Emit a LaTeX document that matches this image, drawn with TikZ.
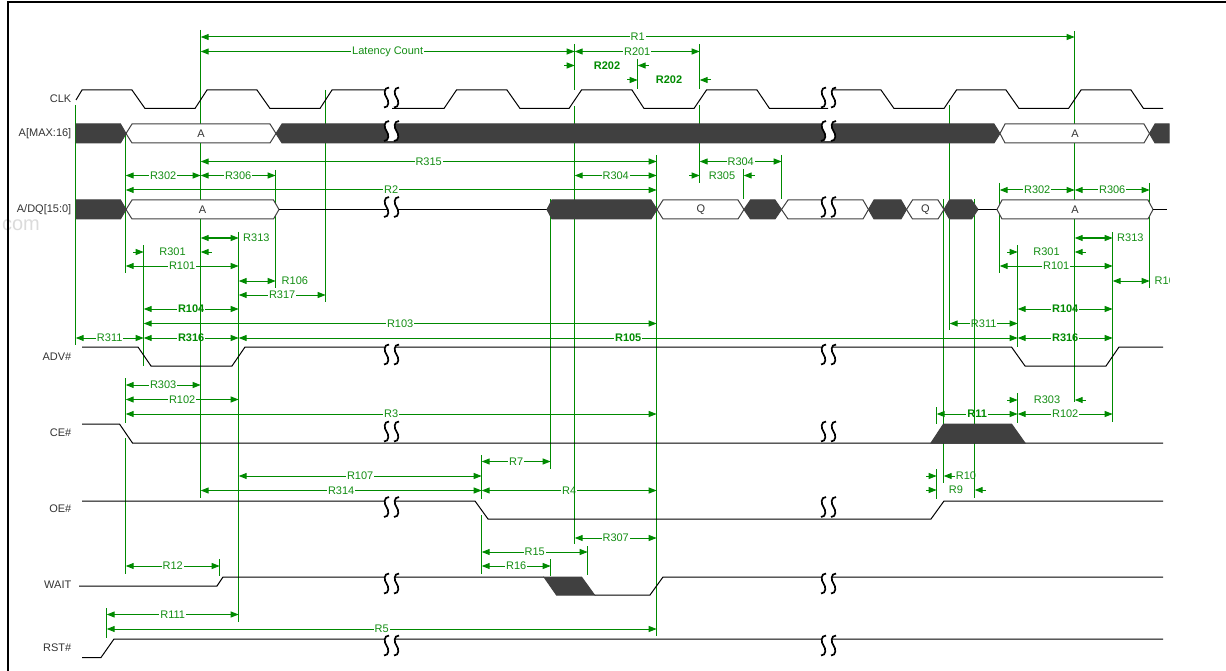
\documentclass[tikz,border=0pt]{standalone}
\usepackage{fontspec}
\setmainfont{Liberation Sans}
\usetikzlibrary{arrows.meta}
\definecolor{dimgreen}{HTML}{008A00}
\definecolor{textgreen}{HTML}{148E14}
\definecolor{busdark}{HTML}{404040}

\begin{document}
\begin{tikzpicture}[x=1pt,y=-1pt,line join=miter,
 font=\fontsize{11}{13}\selectfont,
 sigline/.style={black,line width=1pt},
 busblank/.style={draw=busdark,fill=white,line width=1pt},
 busfill/.style={draw=busdark,fill=busdark,line width=1pt},
 dimline/.style={dimgreen,line width=1pt,{Triangle[length=8pt,width=6pt]}-{Triangle[length=8pt,width=6pt]}},
 halfline/.style={dimgreen,line width=1pt,{Triangle[length=8pt,width=6pt]}-},
 tickline/.style={draw=dimgreen,line width=1pt},
 dimtext/.style={text=textgreen,inner sep=1pt},
 dimlabel/.style={dimtext,fill=white},
 heavylabel/.style={dimlabel,text=dimgreen,font=\fontsize{11}{13}\selectfont\bfseries},
 siglabel/.style={text=black!80,anchor=east,inner sep=0pt},
 buslabel/.style={text=black!80,inner sep=0pt}]
 \useasboundingbox (0,0) rectangle (1226,671);

  \node[text=black!14,font=\fontsize{20}{24}\selectfont] (site) at (21,225) {com};
  \draw[black,line width=2pt] (1226,2) -- (7.5,2) -- (7.5,671);

  % time marks
  \foreach \x in {76,107,126,144,201,220,239,276,326,482,551,575,588,638,657,700,744,782,937,944,950,975,1000,1018,1075,1113,1150} {
   \coordinate (m\x) at (\x-0.3,0);}

  % dimensions with the label in the middle
  \foreach \a/\b/\y/\t in {201/1075/37/R1, 201/575/51.5/Latency Count, 575/700/51.5/R201, 201/657/161.5/R315, 700/782/161.5/R304, 126/201/175.5/R302, 201/276/175.5/R306, 575/657/175.5/R304, 126/657/190/R2, 1000/1075/190/R302, 1075/1150/190/R306, 126/239/266/R101, 1000/1113/266/R101, 239/326/295/R317, 144/657/323.5/R103, 950/1018/323.5/R311, 76/144/338/R311, 126/201/385/R303, 126/239/399.5/R102, 126/657/414/R3, 1018/1113/414/R102, 482/551/461.5/R7, 239/482/476/R107, 201/482/490.5/R314, 482/657/490.5/R4, 575/657/538/R307, 482/588/552/R15, 482/551/566/R16, 126/220/566/R12, 107/239/614.5/R111, 107/657/629/R5} {
   \draw[dimline] (m\a |- 0,\y) -- node[dimlabel] (\t-\a) {\t} (m\b |- 0,\y);}
  \foreach \a/\b/\y/\t in {144/239/309/R104, 1018/1113/309/R104, 144/239/338/R316, 239/1018/338/R105, 1018/1113/338/R316, 937/1018/414/R11} {
   \draw[dimline] (m\a |- 0,\y) -- node[heavylabel] (\t-\a) {\t} (m\b |- 0,\y);}

  % dimensions with the label beside them
  \foreach \a/\b/\y in {201/239/238, 1075/1113/238, 239/276/281, 1113/1150/281} {
   \draw[dimline] (m\a |- 0,\y) -- (m\b |- 0,\y);}
  \node[dimtext,anchor=west] (R313-201) at (242,238) {R313};
  \node[dimtext,anchor=west] (R313-1075) at (1116,238) {R313};
  \node[dimtext,anchor=west] (R106-239) at (280.5,281) {R106};
  \begin{scope}
   \clip (1100,270) rectangle (1169,292);
   \node[dimtext,anchor=west] (R106-1113) at (1153.5,281) {R106};
  \end{scope}

  % arrows from outside
  \foreach \a/\b/\y/\l/\t in {144/201/252/172.5/R301, 1018/1075/252/1046.5/R301, 700/744/175.5/722/R305, 1018/1075/400/1047/R303, 937/944/476/966/R10, 937/975/490/956/R9} {
   \draw[halfline] (m\a |- 0,\y) -- ++(-11,0);
   \draw[halfline] (m\b |- 0,\y) -- ++(11,0);
   \node[dimtext] (\t-\a) at (\l,\y) {\t};}
  \foreach \a/\b/\y/\l/\t in {575/638/65.5/607/R202, 638/700/80/669/R202} {
   \draw[halfline] (m\a |- 0,\y) -- ++(-11,0);
   \draw[halfline] (m\b |- 0,\y) -- ++(11,0);
   \node[heavylabel,fill=none] (\t-\a) at (\l,\y) {\t};}

  % reference lines
  \foreach \x/\s/\e in {76/105/345, 107/608/638, 126/133/273, 126/378/423, 126/438/574, 144/245/366, 201/30/498, 220/559/576, 239/232/622, 276/170/288, 326/90/302, 482/455/499, 482/515/574, 551/199/469, 551/559/576, 575/44/90, 575/106/544, 588/546/575, 638/59/89, 657/155/636, 700/44/89, 700/105/183, 744/169/199, 782/155/199, 937/407/424, 937/469/499, 944/199/483, 950/105/330, 975/199/498, 1000/183/273, 1018/245/347, 1018/393/423, 1075/31/402, 1113/232/422, 1150/183/288} {
   \draw[tickline] (m\x |- 0,\s) -- (m\x |- 0,\e);}

  % CLK
  \draw[sigline] (76,100) -- (82,90) -- (132,90) -- (145,108.5) -- (195,108.5) -- (207,90) -- (257,90) -- (270,108.5) -- (320,108.5) -- (332,90) -- (392,90);
  \draw[sigline] (392,108.5) -- (444,108.5) -- (456.5,90) -- (507,90) -- (520,108.5) -- (569,108.5) -- (581.5,90) -- (632,90) -- (644,108.5) -- (694,108.5) -- (706.5,90) -- (757,90) -- (769.5,108.5) -- (828,108.5);
  \draw[sigline] (828,90) -- (881,90) -- (894,108.5) -- (944,108.5) -- (956.5,90) -- (1006,90) -- (1019,108.5) -- (1068.5,108.5) -- (1081,90) -- (1131,90) -- (1143.5,108.5) -- (1163,108.5);

  % A[MAX:16]
  \draw[busfill] (76,124) -- (120.5,124) -- (126,133.5) -- (120.5,143) -- (76,143) -- cycle;
  \draw[busblank] (126,133.5) -- (132,124) -- (270,124) -- (276,133.5) -- (270,143) -- (132,143) -- cycle;
  \draw[busfill] (276,133.5) -- (282,124) -- (994,124) -- (1000,133.5) -- (994,143) -- (282,143) -- cycle;
  \draw[busblank] (1000,133.5) -- (1005,124) -- (1144,124) -- (1149.5,133.5) -- (1144,143) -- (1005,143) -- cycle;
  \draw[busfill] (1149.5,133.5) -- (1155,124) -- (1169,124) -- (1169,143) -- (1155,143) -- cycle;
  \node[buslabel] (addrfirst) at (201,133.5) {A};
  \node[buslabel] (addrlast) at (1075,133.5) {A};

  % A/DQ[15:0]
  \draw[busfill] (76,200) -- (120.5,200) -- (126,209.5) -- (120.5,219) -- (76,219) -- cycle;
  \draw[busblank] (126,209.5) -- (132,200) -- (273.5,200) -- (279,209.5) -- (273.5,219) -- (132,219) -- cycle;
  \draw[sigline] (279,209.5) -- (547,209.5);
  \draw[busfill] (547,209.5) -- (552,200) -- (651,200) -- (657,209.5) -- (651,219) -- (552,219) -- cycle;
  \draw[busblank] (657,209.5) -- (663,200) -- (738,200) -- (744,209.5) -- (738,219) -- (663,219) -- cycle;
  \draw[busfill] (744,209.5) -- (750.5,200) -- (775,200) -- (781.5,209.5) -- (775,219) -- (750.5,219) -- cycle;
  \draw[busblank] (781.5,209.5) -- (788,200) -- (863,200) -- (868.5,209.5) -- (863,219) -- (788,219) -- cycle;
  \draw[busfill] (868.5,209.5) -- (874,200) -- (901,200) -- (906.5,209.5) -- (901,219) -- (874,219) -- cycle;
  \draw[busblank] (906.5,209.5) -- (912.5,200) -- (938,200) -- (944,209.5) -- (938,219) -- (912.5,219) -- cycle;
  \draw[busfill] (944,209.5) -- (949.5,200) -- (971.5,200) -- (978,209.5) -- (971.5,219) -- (949.5,219) -- cycle;
  \draw[sigline] (978,209.5) -- (997,209.5);
  \draw[busblank] (997,209.5) -- (1002,200) -- (1148,200) -- (1153,209.5) -- (1148,219) -- (1002,219) -- cycle;
  \draw[sigline] (1153,209.5) -- (1166.5,209.5);
  \node[buslabel] (datafirst) at (202.5,209.5) {A};
  \node[buslabel] (qfirst) at (701,209.5) {Q};
  \node[buslabel] (qlast) at (925.5,209.5) {Q};
  \node[buslabel] (datalast) at (1075,209.5) {A};

  % ADV#, CE#, OE#
  \draw[sigline] (82,347) -- (138,347) -- (151,366) -- (232,366) -- (245,347) -- (1011.5,347) -- (1025,366) -- (1106,366) -- (1119,347) -- (1163,347);
  \draw[sigline] (82,424) -- (119.5,424) -- (132.5,443) -- (1163,443);
  \draw[busfill] (931,443) -- (943.5,424) -- (1011.5,424) -- (1025,443) -- cycle;
  \draw[sigline] (82,501) -- (475,501) -- (488,519) -- (931,519) -- (944,501) -- (1163,501);

  % WAIT, RST#
  \draw[sigline] (79,586) -- (217,586) -- (223,577) -- (544,577);
  \draw[busfill] (544,577) -- (581.5,577) -- (594.5,595) -- (556.5,595) -- cycle;
  \draw[sigline] (594.5,595) -- (650,595) -- (663,577) -- (1163,577);
  \draw[sigline] (82,657.5) -- (101,657.5) -- (114,639) -- (1163,639);

  % time breaks
  \foreach \x in {391.5,828.5} {
   \foreach \y in {97.5,131,207,354.5,431.5,507,583.5,645.5} {
    \begin{scope}[shift={(\x,\y)}]
     \fill[white] (-2.5,-10) .. controls (-8,-10) and (-7.5,-3) .. (-5,0) .. controls (-2.5,3) and (-2,10) .. (-7.5,10) -- (2.5,10) .. controls (8,10) and (7.5,3) .. (5,0) .. controls (2.5,-3) and (2,-10) .. (7.5,-10) -- cycle;
     \draw[black,line width=1.7pt] (-2.5,-10) .. controls (-8,-10) and (-7.5,-3) .. (-5,0) .. controls (-2.5,3) and (-2,10) .. (-7.5,10);
     \draw[black,line width=1.7pt] (7.5,-10) .. controls (2,-10) and (2.5,-3) .. (5,0) .. controls (7.5,3) and (8,10) .. (2.5,10);
    \end{scope}}}

  % signal names
  \foreach \n/\t/\y in {clk/CLK/99, addr/{A[MAX:16]}/133.5, data/{A/DQ[15:0]}/209.5, adv/ADV\#/357, ce/CE\#/433, oe/OE\#/509, wait/WAIT/585, rst/RST\#/648} {
   \node[siglabel] (\n) at (71.5,\y) {\t};}
\end{tikzpicture}
\end{document}
